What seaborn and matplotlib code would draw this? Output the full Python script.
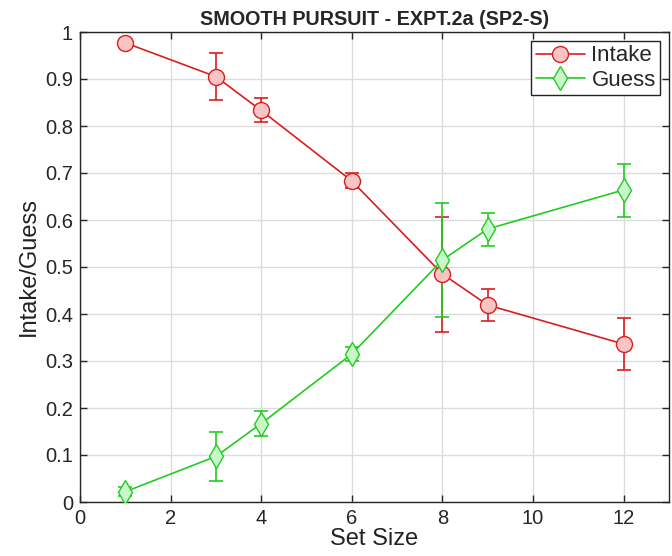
import pandas as pd
import numpy as np
import seaborn as sns
import matplotlib.pyplot as plt

set_size = [1, 3, 4, 6, 8, 9, 12]

intake = [0.977, 0.905, 0.833, 0.683, 0.485, 0.419, 0.336]
intake_lo = [0.970, 0.855, 0.808, 0.668, 0.362, 0.385, 0.281]
intake_hi = [0.984, 0.955, 0.860, 0.700, 0.606, 0.454, 0.391]

guess = [0.022, 0.097, 0.167, 0.315, 0.515, 0.581, 0.664]
guess_lo = [0.012, 0.045, 0.140, 0.300, 0.394, 0.545, 0.607]
guess_hi = [0.032, 0.148, 0.193, 0.330, 0.637, 0.615, 0.719]

sns.set_style("whitegrid")
plt.rcParams['font.family'] = ['Liberation Sans', 'DejaVu Sans']

fig = plt.figure(figsize=(6.72, 5.56), dpi=100)
ax = fig.add_axes([80 / 672, 1 - 502 / 556, 589 / 672, 470 / 556])

red = '#d91e1e'
green = '#22cc22'

# error bars first so markers sit on top
for y, lo, hi, c in [(intake, intake_lo, intake_hi, red), (guess, guess_lo, guess_hi, green)]:
    y = np.array(y)
    yerr = [y - np.array(lo), np.array(hi) - y]
    ax.errorbar(set_size, y, yerr=yerr, fmt='none', ecolor=c, elinewidth=1.2,
                capsize=5, capthick=1.2, zorder=2)

sns.lineplot(x=set_size, y=intake, color=red, marker='o', markersize=11.5,
             markerfacecolor='#f9c4c4', markeredgecolor=red, markeredgewidth=1.0,
             linewidth=1.2, label='Intake', ax=ax, zorder=3)
sns.lineplot(x=set_size, y=guess, color=green, marker='d', markersize=12.5,
             markerfacecolor='#c9f7c9', markeredgecolor=green, markeredgewidth=1.0,
             linewidth=1.2, label='Guess', ax=ax, zorder=3)

ax.set_xlim(0, 13)
ax.set_ylim(0, 1)
ax.set_xticks(np.arange(0, 13, 2))
ax.set_yticks(np.arange(0, 1.01, 0.1))
ax.set_yticklabels(['0', '0.1', '0.2', '0.3', '0.4', '0.5', '0.6', '0.7', '0.8', '0.9', '1'])
ax.tick_params(direction='in', length=5, width=1, colors='#262626', labelsize=14.5,
               top=True, right=True, left=True, bottom=True, pad=5)
ax.grid(True, color='#dcdcdc', linewidth=1)
for s in ax.spines.values():
    s.set_color('#262626')
    s.set_linewidth(1)

ax.set_xlabel('Set Size', fontsize=17, color='#222222', labelpad=0)
ax.set_ylabel('Intake/Guess', fontsize=17, color='#222222', labelpad=4)
ax.set_title('SMOOTH PURSUIT - EXPT.2a (SP2-S)', fontsize=14.2, fontweight='bold', pad=5)

leg = ax.legend(loc='upper right', fontsize=16, frameon=True, fancybox=False,
                edgecolor='#222222', framealpha=1, borderpad=0.2, handlelength=2.2,
                handletextpad=0.3, labelspacing=0.15, borderaxespad=0.4)
leg.get_frame().set_linewidth(1)

plt.savefig('out.png', dpi=100)
